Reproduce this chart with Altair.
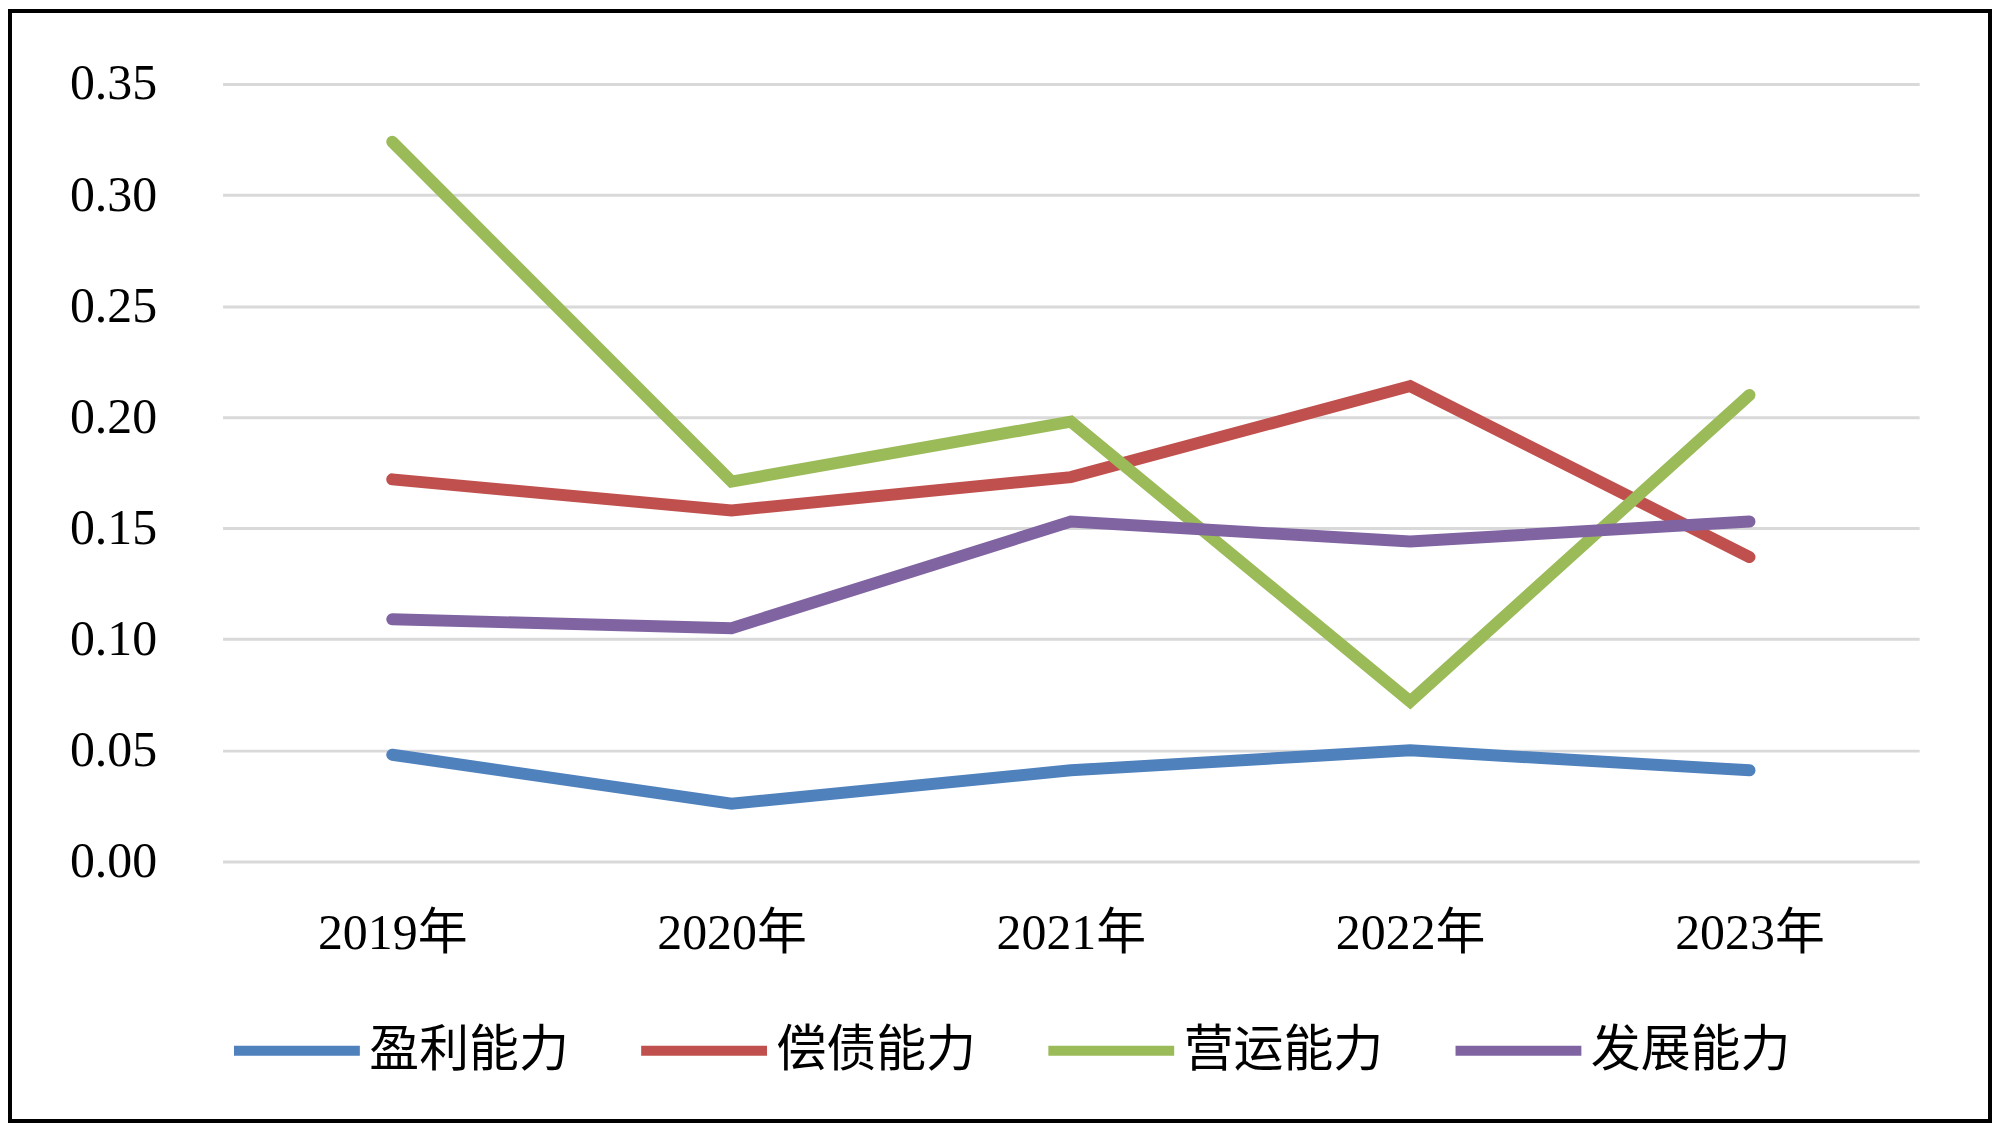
import altair as alt
import pandas as pd

years = ["2019年", "2020年", "2021年", "2022年", "2023年"]
series_names = ["盈利能力", "偿债能力", "营运能力", "发展能力"]
profit = [0.048, 0.026, 0.041, 0.050, 0.041]
solvency = [0.172, 0.158, 0.173, 0.214, 0.137]
operation = [0.324, 0.171, 0.198, 0.072, 0.210]
development = [0.109, 0.105, 0.153, 0.144, 0.153]
colors = ["#4F81BD", "#C0504D", "#9BBB59", "#8064A2"]
y_ticks = [0.0, 0.05, 0.10, 0.15, 0.20, 0.25, 0.30, 0.35]

rows = []
for name, vals in zip(series_names, [profit, solvency, operation, development]):
    for yr, v in zip(years, vals):
        rows.append({"year": yr, "series": name, "value": v})
df = pd.DataFrame(rows)

FONT = "Liberation Serif, Noto Sans CJK SC"
W, H = 1700, 779
PL, PT, PR, PB = 215, 75, 73, 262

lines = alt.Chart(df).mark_line(strokeWidth=12, strokeCap="round", strokeJoin="miter").encode(
    x=alt.X("year:N", sort=years, title=None,
            scale=alt.Scale(padding=0.5),
            axis=alt.Axis(labelAngle=0, labelFont=FONT, labelFontSize=50, labelColor="black",
                          labelBaseline="middle", labelPadding=72, ticks=False, tickSize=0,
                          domain=False, grid=False)),
    y=alt.Y("value:Q", title=None,
            scale=alt.Scale(domain=[0, 0.35], nice=False, zero=True),
            axis=alt.Axis(values=y_ticks, format=".2f", labelFont=FONT, labelFontSize=50,
                          labelColor="black", labelPadding=66, ticks=False, tickSize=0,
                          domain=False, grid=True, gridColor="#D9D9D9", gridWidth=3)),
    color=alt.Color("series:N", sort=series_names,
                    scale=alt.Scale(domain=series_names, range=colors),
                    legend=alt.Legend(orient="none", legendX=6, legendY=900, direction="horizontal",
                                      columns=4, title=None, symbolType="stroke", symbolSize=15900,
                                      symbolStrokeWidth=10, labelFont=FONT, labelFontSize=50,
                                      labelColor="black", labelOffset=4, columnPadding=52,
                                      labelLimit=400)),
    order=alt.Order("year:N")
)

border = alt.Chart(pd.DataFrame({"a": [0]})).mark_rect(fill=None, stroke="black", strokeWidth=4).encode(
    x=alt.value(2 - PL), x2=alt.value(1986 - PL), y=alt.value(2 - PT), y2=alt.value(1114 - PT)
)

chart = alt.layer(lines, border).properties(
    width=W, height=H,
    autosize=alt.AutoSizeParams(type="none"),
    padding={"left": PL, "top": PT, "right": PR, "bottom": PB},
    background="white"
).configure_view(stroke=None)

chart.save("out.html", embed_options={"renderer": "svg", "actions": False})
